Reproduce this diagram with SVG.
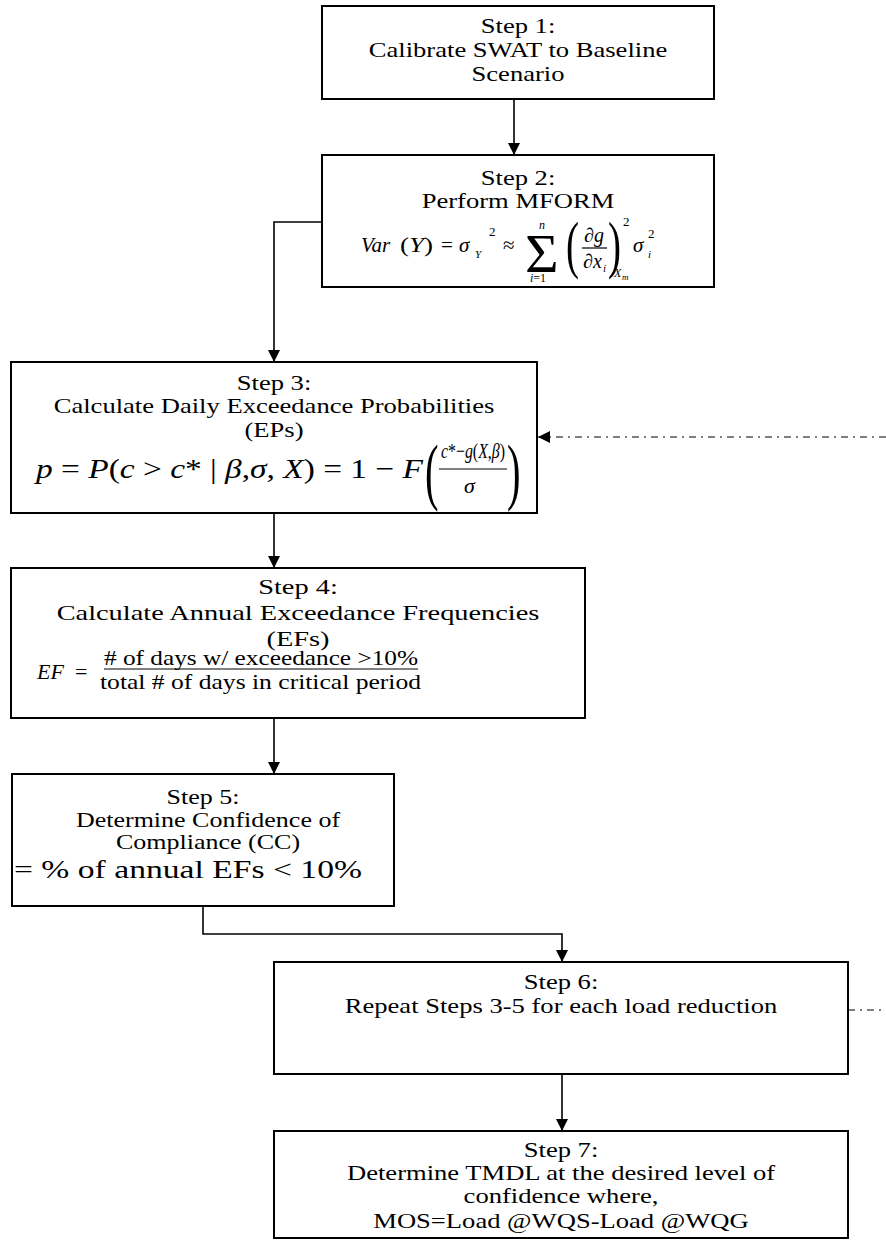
<svg xmlns="http://www.w3.org/2000/svg" width="886" height="1243" viewBox="0 0 886 1243">
  <style>
    .box { fill: #fff; stroke: #000; stroke-width: 2; }
    .t { font-family: "Liberation Serif", "Times New Roman", serif; font-size: 20px; fill: #000; text-anchor: middle; }
    .f { font-family: "Liberation Serif", "Times New Roman", serif; fill: #000; }
    .i { font-style: italic; }
    .conn { fill: none; stroke: #000; stroke-width: 1.6; }
    .dd { fill: none; stroke: #000; stroke-width: 1.2; stroke-dasharray: 7 5 2 5; }
    .bar { stroke: #000; stroke-width: 1.2; }
  </style>
  <defs>
    <marker id="arrow" markerUnits="userSpaceOnUse" markerWidth="13" markerHeight="12" refX="12" refY="6" orient="auto">
      <path d="M0,0 L12,6 L0,12 z" fill="#000"/>
    </marker>
  </defs>

  <!-- connectors -->
  <g id="connectors">
    <path class="conn" d="M514,99 V155" marker-end="url(#arrow)"/>
    <path class="conn" d="M322,222 H274 V362" marker-end="url(#arrow)"/>
    <path class="conn" d="M274,513 V568" marker-end="url(#arrow)"/>
    <path class="conn" d="M274,718 V774" marker-end="url(#arrow)"/>
    <path class="conn" d="M203,906 V934 H562 V962" marker-end="url(#arrow)"/>
    <path class="conn" d="M562,1074 V1131" marker-end="url(#arrow)"/>
    <path class="dd" d="M886,437 H538" marker-end="url(#arrow)"/>
    <path class="dd" d="M848,1010 H886"/>
  </g>

  <!-- Step 1 -->
  <g id="step1">
    <rect class="box" x="322" y="6" width="392" height="93"/>
    <text class="t" transform="translate(518,33) scale(1.33,1)">Step 1:</text>
    <text class="t" transform="translate(518,57) scale(1.33,1)">Calibrate SWAT to Baseline</text>
    <text class="t" transform="translate(518,81) scale(1.33,1)">Scenario</text>
  </g>

  <!-- Step 2 -->
  <g id="step2">
    <rect class="box" x="322" y="155" width="392" height="132"/>
    <text class="t" transform="translate(518,185) scale(1.33,1)">Step 2:</text>
    <text class="t" transform="translate(518,208) scale(1.33,1)">Perform MFORM</text>
    <!-- Var(Y) = sigma_Y^2 ~ sum (dg/dx_i)^2 sigma_i^2 -->
    <text class="f i" x="361" y="252" style="font-size:21px">Var</text>
    <text class="f" x="400" y="252" style="font-size:21px" textLength="33" lengthAdjust="spacingAndGlyphs">(<tspan class="i">Y</tspan>)</text>
    <text class="f" x="441" y="252" style="font-size:21px">=</text>
    <text class="f i" x="459" y="252" style="font-size:21px">σ</text>
    <text class="f i" x="475" y="258" style="font-size:11px">Y</text>
    <text class="f" x="489" y="236" style="font-size:13px">2</text>
    <text class="f" x="503" y="252" style="font-size:21px">≈</text>
    <text class="f" transform="translate(525,272) scale(1.05,1)" style="font-size:55px">Σ</text>
    <text class="f i" x="539" y="229" style="font-size:12px">n</text>
    <text class="f" x="530" y="282" style="font-size:12px"><tspan class="i">i</tspan>=1</text>
    <text class="f" transform="translate(566,266) scale(0.62,1)" style="font-size:63px">(</text>
    <text class="f" x="584" y="242" style="font-size:20px">∂<tspan class="i">g</tspan></text>
    <line class="bar" x1="582" y1="248" x2="607" y2="248"/>
    <text class="f" x="583" y="268" style="font-size:20px">∂<tspan class="i">x</tspan></text>
    <text class="f i" x="603" y="272" style="font-size:11px">i</text>
    <text class="f" transform="translate(608,266) scale(0.62,1)" style="font-size:63px">)</text>
    <text class="f" x="623" y="226" style="font-size:13px">2</text>
    <text class="f i" x="614" y="277" style="font-size:12px">X</text>
    <text class="f i" x="622" y="280" style="font-size:9px">m</text>
    <text class="f i" x="633" y="252" style="font-size:21px">σ</text>
    <text class="f" x="648" y="238" style="font-size:13px">2</text>
    <text class="f i" x="648" y="258" style="font-size:11px">i</text>
  </g>

  <!-- Step 3 -->
  <g id="step3">
    <rect class="box" x="11" y="362" width="526" height="151"/>
    <text class="t" transform="translate(274,390) scale(1.33,1)">Step 3:</text>
    <text class="t" transform="translate(274,413) scale(1.33,1)">Calculate Daily Exceedance Probabilities</text>
    <text class="t" transform="translate(274,437) scale(1.33,1)">(EPs)</text>
    <text class="f" x="36" y="478" style="font-size:28px" textLength="387" lengthAdjust="spacingAndGlyphs"><tspan class="i">p</tspan> = <tspan class="i">P</tspan>(<tspan class="i">c</tspan> &gt; <tspan class="i">c</tspan>* | <tspan class="i">β</tspan>,<tspan class="i">σ</tspan>, <tspan class="i">X</tspan>) = 1 − <tspan class="i">F</tspan></text>
    <text class="f" transform="translate(425,496) scale(0.55,1)" style="font-size:74px">(</text>
    <text class="f" x="441" y="458" style="font-size:21px" textLength="64" lengthAdjust="spacingAndGlyphs"><tspan class="i">c</tspan>*−<tspan class="i">g</tspan>(<tspan class="i">X</tspan>,<tspan class="i">β</tspan>)</text>
    <line class="bar" x1="439" y1="469" x2="507" y2="469"/>
    <text class="f i" x="464" y="493" style="font-size:22px">σ</text>
    <text class="f" transform="translate(507,496) scale(0.55,1)" style="font-size:74px">)</text>
  </g>

  <!-- Step 4 -->
  <g id="step4">
    <rect class="box" x="11" y="568" width="574" height="150"/>
    <text class="t" transform="translate(298,594) scale(1.29,1)" style="font-size:22px">Step 4:</text>
    <text class="t" transform="translate(298,620) scale(1.29,1)" style="font-size:22px">Calculate Annual Exceedance Frequencies</text>
    <text class="t" transform="translate(298,646) scale(1.29,1)" style="font-size:22px">(EFs)</text>
    <text class="f i" x="37" y="679" style="font-size:22px">EF</text>
    <text class="f" x="75" y="679" style="font-size:22px">=</text>
    <text class="f" x="104" y="665" style="font-size:21px" textLength="314" lengthAdjust="spacingAndGlyphs"># of days w/ exceedance &gt;10%</text>
    <line class="bar" x1="104" y1="669" x2="418" y2="669"/>
    <text class="f" x="100" y="689" style="font-size:21px" textLength="321" lengthAdjust="spacingAndGlyphs">total # of days in critical period</text>
  </g>

  <!-- Step 5 -->
  <g id="step5">
    <rect class="box" x="12" y="774" width="382" height="132"/>
    <text class="t" transform="translate(203,804) scale(1.3,1)">Step 5:</text>
    <text class="t" transform="translate(208,827) scale(1.3,1)">Determine Confidence of</text>
    <text class="t" transform="translate(208,849) scale(1.3,1)">Compliance (CC)</text>
    <text class="f" x="14" y="878" style="font-size:25px" textLength="348" lengthAdjust="spacingAndGlyphs">= % of annual EFs &lt; 10%</text>
  </g>

  <!-- Step 6 -->
  <g id="step6">
    <rect class="box" x="274" y="962" width="574" height="112"/>
    <text class="t" transform="translate(561,989) scale(1.33,1)">Step 6:</text>
    <text class="t" transform="translate(561,1013) scale(1.33,1)">Repeat Steps 3-5 for each load reduction</text>
  </g>

  <!-- Step 7 -->
  <g id="step7">
    <rect class="box" x="274" y="1131" width="574" height="107"/>
    <text class="t" transform="translate(561,1157) scale(1.33,1)">Step 7:</text>
    <text class="t" transform="translate(561,1180) scale(1.33,1)">Determine TMDL at the desired level of</text>
    <text class="t" transform="translate(561,1203) scale(1.33,1)">confidence where,</text>
    <text class="t" transform="translate(561,1228) scale(1.33,1)">MOS=Load @WQS-Load @WQG</text>
  </g>
</svg>
